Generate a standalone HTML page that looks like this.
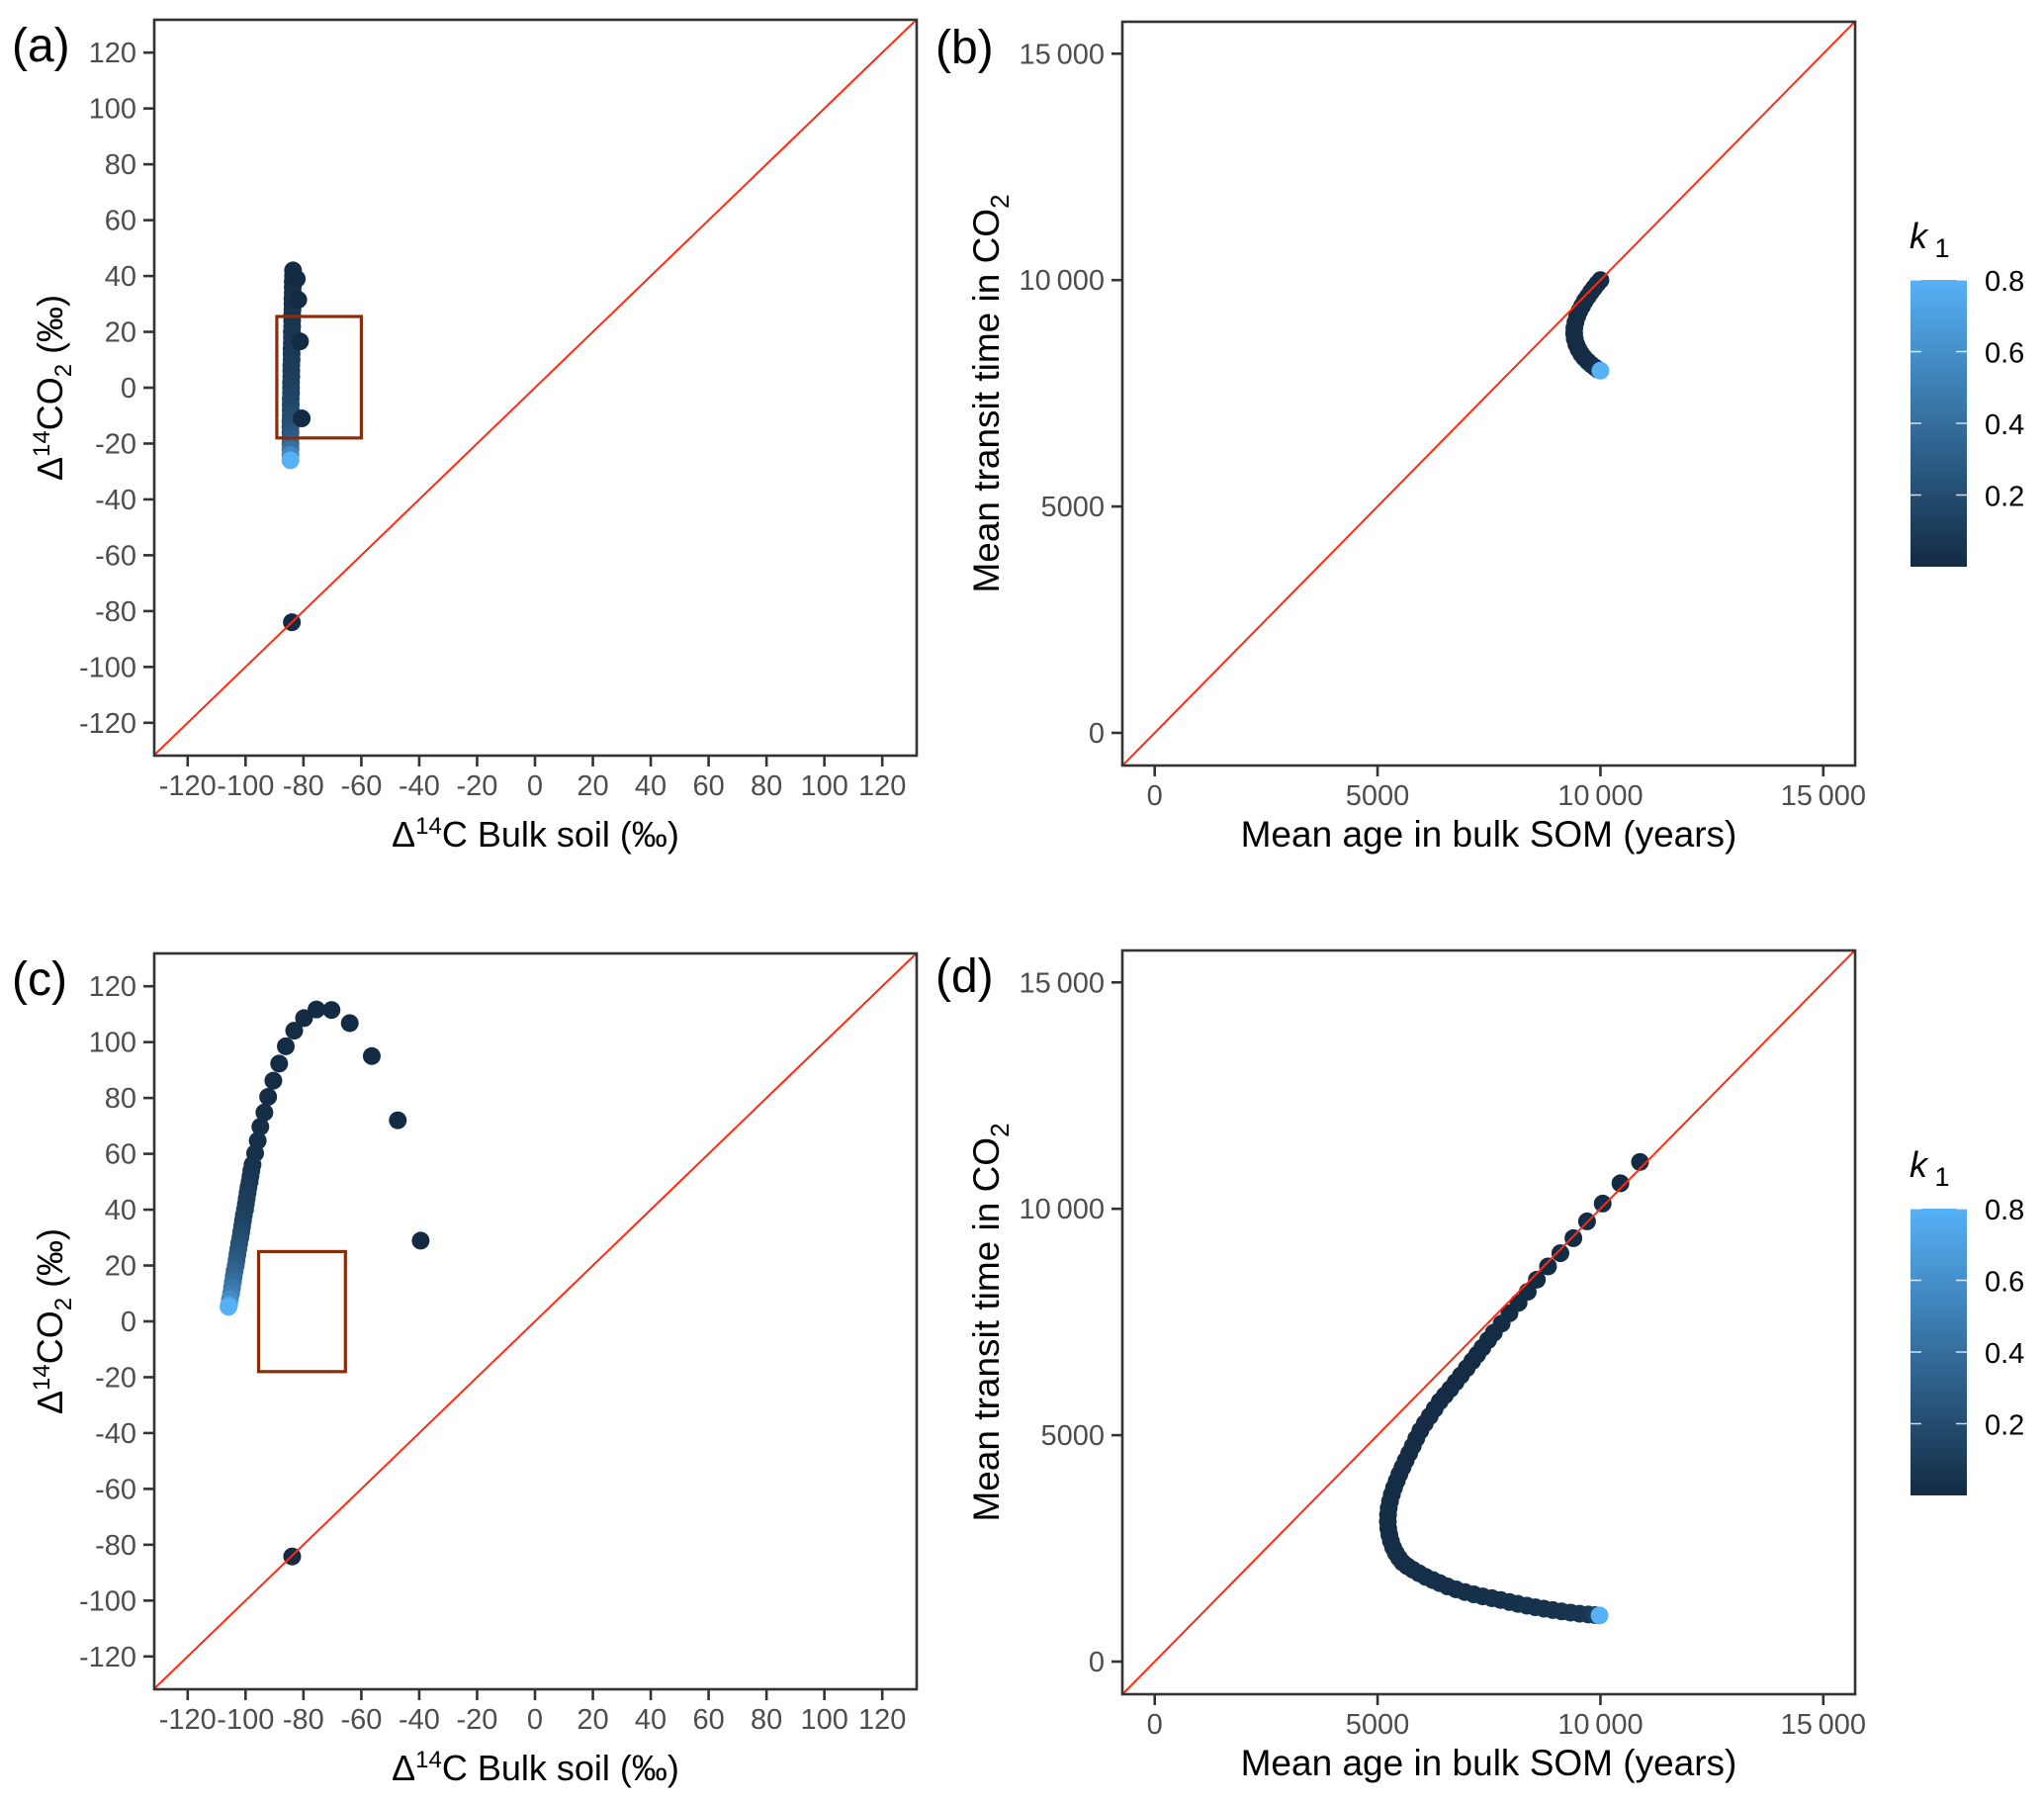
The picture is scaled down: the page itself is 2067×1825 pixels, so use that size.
<!DOCTYPE html>
<html><head><meta charset="utf-8"><style>
html,body{margin:0;padding:0;background:#fff}
svg{display:block}
text{font-family:"Liberation Sans",Arial,sans-serif}
</style></head><body>
<svg id="fig" xmlns="http://www.w3.org/2000/svg" width="2067" height="1825" viewBox="0 0 2067 1825">
<defs>
<linearGradient id="cbar" x1="0" y1="1" x2="0" y2="0"><stop offset="0" stop-color="#132B43"/><stop offset="1" stop-color="#56B1F7"/></linearGradient>
</defs>
</svg>
<script>
// ---------- Data ----------
const aX = [-83.6,-83.6,-83.7,-83.7,-83.7,-83.8,-83.8,-83.8,-83.9,-83.9,-83.9,-84.0,-84.0,-84.0,-84.1,-84.1,-84.1,-84.2,-84.2,-84.2,-84.3,-84.3,-84.3,-84.4,-84.4,-84.4,-84.4,-84.5,-84.5,-84.5,-84.5,-84.5,-84.5,-84.5,-84.5,-82.3,-81.8,-81.2,-80.6,-84.0];
const aY = [42,40,38,36,34,32,30,28,26,24,22,20,18,16,14,12,10,8,6,4,2,0,-2,-4,-6,-8,-10,-12,-14,-16,-18,-20,-22,-24,-26,39,31.5,16.6,-11,-84];
const aK = [0.01,0.01,0.02,0.02,0.03,0.03,0.04,0.04,0.05,0.05,0.06,0.06,0.07,0.07,0.08,0.08,0.09,0.1,0.1,0.11,0.12,0.13,0.14,0.15,0.16,0.17,0.19,0.2,0.22,0.25,0.28,0.33,0.42,0.56,0.8,0.005,0.005,0.005,0.005,0.005];
const aRect = [-89.2,-60.0,-18.0,25.5];
const cX = [-39.5,-47.4,-56.4,-64.0,-70.3,-75.5,-79.8,-83.2,-86.1,-88.4,-90.4,-92.2,-93.5,-94.9,-95.8,-96.7,-97.6,-98.0,-98.3,-98.6,-99.0,-99.3,-99.6,-99.9,-100.2,-100.6,-100.9,-101.2,-101.5,-101.8,-102.2,-102.5,-102.8,-103.1,-103.4,-103.8,-104.1,-104.4,-104.7,-105.0,-105.4,-105.7,-105.9,-83.9];
const cY = [28.9,72.0,95.0,106.8,111.5,111.7,108.6,104.1,98.5,92.3,86.2,80.4,74.8,69.7,64.7,60.2,56.1,54,52,50,48,46,44,42,40,38,36,34,32,30,28,26,24,22,20,18,16,14,12,10,8,6,5.2,-84.2];
const cK = [0.005,0.005,0.005,0.005,0.005,0.005,0.005,0.006,0.007,0.008,0.01,0.012,0.015,0.02,0.025,0.03,0.04,0.05,0.06,0.07,0.08,0.09,0.1,0.11,0.12,0.13,0.14,0.15,0.17,0.19,0.21,0.23,0.25,0.27,0.3,0.33,0.36,0.4,0.45,0.5,0.58,0.68,0.8,0.005];
const cRect = [-95.5,-65.5,-18.0,25.0];
const bX = [10000,9930,9860,9790,9720,9650,9590,9530,9480,9440,9415,9410,9425,9460,9510,9570,9640,9720,9800,9880,9950,10000];
const bY = [10000,9920,9830,9740,9640,9540,9430,9320,9200,9070,8940,8820,8700,8580,8470,8370,8280,8200,8130,8070,8020,8000];
const bK = [0.01,0.01,0.01,0.01,0.01,0.01,0.01,0.01,0.01,0.01,0.01,0.01,0.01,0.01,0.01,0.01,0.01,0.01,0.02,0.03,0.05,0.8];
const dX = [10888,10449,10051,9700,9394,9101,8824,8574,8369,8165,7960,7784,7608,7480,7350,7235,7125,7000,6870,6750,6630,6510,6395,6280,6170,6060,5960,5870,5790,5710,5630,5560,5490,5430,5370,5320,5280,5250,5235,5230,5240,5265,5300,5350,5410,5480,5560,5663,5790,5930,6080,6240,6395,6570,6760,6960,7160,7360,7566,7760,7960,8150,8350,8540,8735,8930,9130,9330,9530,9730,9880,9980];
const dY = [11034,10563,10116,9722,9351,9020,8727,8435,8168,7925,7694,7466,7263,7100,6930,6780,6638,6480,6320,6170,6020,5880,5746,5580,5420,5260,5100,4930,4760,4600,4440,4290,4140,3990,3840,3690,3540,3390,3240,3090,2940,2800,2660,2520,2400,2290,2190,2110,2030,1950,1870,1800,1733,1660,1595,1535,1485,1440,1400,1360,1315,1275,1235,1200,1168,1138,1108,1082,1058,1040,1028,1019];
const dK = [0.005,0.005,0.005,0.005,0.005,0.005,0.005,0.005,0.005,0.005,0.005,0.005,0.006,0.006,0.006,0.006,0.006,0.006,0.007,0.007,0.007,0.007,0.008,0.008,0.008,0.009,0.009,0.01,0.01,0.01,0.011,0.011,0.012,0.012,0.013,0.013,0.014,0.015,0.015,0.016,0.017,0.018,0.019,0.02,0.021,0.022,0.023,0.024,0.025,0.026,0.027,0.028,0.029,0.03,0.031,0.032,0.033,0.034,0.035,0.036,0.037,0.038,0.04,0.042,0.044,0.046,0.05,0.055,0.06,0.07,0.12,0.8];
const isoTicks = [-120,-100,-80,-60,-40,-20,0,20,40,60,80,100,120];
const ageTicks = [0,5000,10000,15000];
const ageTickLabels = ["0","5000","10\u2009000","15\u2009000"];
const cbarTicks = [0.2,0.4,0.6,0.8];
const cbarLabels = ["0.2","0.4","0.6","0.8"];

// ---------- Drawing ----------
const NS = "http://www.w3.org/2000/svg";
const svg = document.getElementById('fig');
function mk(tag, attrs, parent, txt){
  const e = document.createElementNS(NS, tag);
  for (const k in attrs) e.setAttribute(k, attrs[k]);
  if (txt !== undefined) e.textContent = txt;
  (parent||svg).appendChild(e);
  return e;
}
function col(k){
  const t = Math.max(0, Math.min(1, k/0.8));
  const a=[0x13,0x2B,0x43], b=[0x56,0xB1,0xF7];
  return 'rgb('+a.map((v,i)=>Math.round(v+(b[i]-v)*t)).join(',')+')';
}
function linScale(d0,d1,p0,p1){ return v => p0 + (v-d0)*(p1-p0)/(d1-d0); }

function panel(o){
  const g = mk('g', {});
  
  
  const cid = 'clip-'+o.name;
  const cp = mk('clipPath', {id: cid}, g);
  mk('rect', {x:o.L, y:o.T, width:o.R-o.L, height:o.B-o.T}, cp);
  o.xt.forEach((v,i)=>{
    const x = o.sx(v);
    const t = mk('line', {x1:x, x2:x, y1:o.B, y2:o.B+11, stroke:'#333', 'stroke-width':2.6}, g);
    
    
    const l = mk('text', {x:x, y:o.B+40, 'text-anchor':'middle', 'font-size':29, fill:'#4D4D4D'}, g, o.xl[i]);
    
    
  });
  o.yt.forEach((v,i)=>{
    const y = o.sy(v);
    const t = mk('line', {x1:o.L-11, x2:o.L, y1:y, y2:y, stroke:'#333', 'stroke-width':2.6}, g);
    
    
    const l = mk('text', {x:o.L-18, y:y+10, 'text-anchor':'end', 'font-size':29, fill:'#4D4D4D'}, g, o.yl[i]);
    
    
  });
  const pg = mk('g', {'clip-path':'url(#'+cid+')'}, g);
  
  
  for (let i=0;i<o.X.length;i++){
    const c = mk('circle', {cx:o.sx(o.X[i]), cy:o.sy(o.Y[i]), r:9, fill:col(o.K[i])}, pg);
    
    
  }
  if (o.rect){
    const r = o.rect;
    const re = mk('rect', {x:o.sx(r[0]), y:o.sy(r[3]), width:o.sx(r[1])-o.sx(r[0]), height:o.sy(r[2])-o.sy(r[3]), fill:'none', stroke:'#8B2E08', 'stroke-width':3.2}, g);
    
    
  }
  const ln = mk('line', {x1:o.sx(o.lo), y1:o.sy(o.lo), x2:o.sx(o.hi), y2:o.sy(o.hi), stroke:'#FF2A10', 'stroke-width':2, 'clip-path':'url(#'+cid+')'}, g);
  
  
  const fr = mk('rect', {x:o.L, y:o.T, width:o.R-o.L, height:o.B-o.T, fill:'none', stroke:'#333', 'stroke-width':2.6}, g);
  
  
  const lab = mk('text', {x:o.labX, y:o.T+42, 'font-size':48, fill:'#000'}, g, o.label);
  
  
  return g;
}

function isoTitles(g, o){
  const xt = mk('text', {x:(o.L+o.R)/2, y:o.B+92, 'text-anchor':'middle', 'font-size':36, fill:'#000'}, g);
  
  
  xt.innerHTML = 'Δ<tspan dy="-13" font-size="24">14</tspan><tspan dy="13">C Bulk soil (‰)</tspan>';
  const cy = (o.T+o.B)/2;
  const yt = mk('text', {x:0, y:0, transform:'translate(63,'+cy+') rotate(-90)', 'text-anchor':'middle', 'font-size':36, fill:'#000'}, g);
  
  
  yt.innerHTML = 'Δ<tspan dy="-13" font-size="24">14</tspan><tspan dy="13">CO</tspan><tspan dy="9" font-size="24">2</tspan><tspan dy="-9"> (‰)</tspan>';
}
function ageTitles(g, o){
  const xt = mk('text', {x:(o.L+o.R)/2, y:o.B+82, 'text-anchor':'middle', 'font-size':37, fill:'#000'}, g, 'Mean age in bulk SOM (years)');
  
  
  const cy = (o.T+o.B)/2;
  const yt = mk('text', {x:0, y:0, transform:'translate(1010,'+cy+') rotate(-90)', 'text-anchor':'middle', 'font-size':37, fill:'#000'}, g);
  
  
  yt.innerHTML = 'Mean transit time in CO<tspan dy="10" font-size="26">2</tspan>';
  const T = o.cbT, B = o.cbB, L = 1932, R = 1989;
  const cs = linScale(0, 0.8, B, T);
  const cb = mk('g', {}, g);
  
  
  const bar = mk('rect', {x:L, y:T, width:R-L, height:B-T, fill:'url(#cbar)'}, cb);
  
  
  cbarTicks.forEach((v,i)=>{
    const y = cs(v);
    mk('line', {x1:L, x2:L+11, y1:y, y2:y, stroke:'#fff', 'stroke-width':1.5, opacity:0.8}, cb);
    mk('line', {x1:R-11, x2:R, y1:y, y2:y, stroke:'#fff', 'stroke-width':1.5, opacity:0.8}, cb);
    const l = mk('text', {x:2007, y:y+11, 'font-size':29, fill:'#000'}, cb, cbarLabels[i]);
    
    
  });
  const tt = mk('text', {x:1931, y:T-32, 'font-size':36, fill:'#000'}, cb);
  
  
  tt.innerHTML = '<tspan font-style="italic">k</tspan><tspan dy="9" font-size="27"> 1</tspan>';
}

const isoLabels = isoTicks.map(String);
function isoPanel(name, label, off, X, Y, K, rect){
  const o = {name, label, L:156, R:927, T:20+off, B:764+off, labX:12,
    sx: linScale(0, 120, 541, 892.2), sy: linScale(0, 120, 392+off, 53.2+off),
    xt:isoTicks, yt:isoTicks, xl:isoLabels, yl:isoLabels, X, Y, K, rect, lo:-140, hi:140};
  const g = panel(o); isoTitles(g, o);
}
function agePanel(name, label, off, X, Y, K, cbT){
  const o = {name, label, L:1135, R:1876, T:22+off, B:774+off, labX:946,
    sx: linScale(0, 15000, 1167.7, 1843.8), sy: linScale(0, 15000, 741+off, 54.3+off),
    xt:ageTicks, yt:ageTicks, xl:ageTickLabels, yl:ageTickLabels, X, Y, K, rect:null, lo:-2000, hi:18000,
    cbT:cbT, cbB:cbT+290};
  const g = panel(o); ageTitles(g, o);
}
isoPanel('panel-a', '(a)', 0, aX, aY, aK, aRect);
agePanel('panel-b', '(b)', 0, bX, bY, bK, 283);
isoPanel('panel-c', '(c)', 944, cX, cY, cK, cRect);
agePanel('panel-d', '(d)', 939, dX, dY, dK, 1222);
</script>
</body></html>
